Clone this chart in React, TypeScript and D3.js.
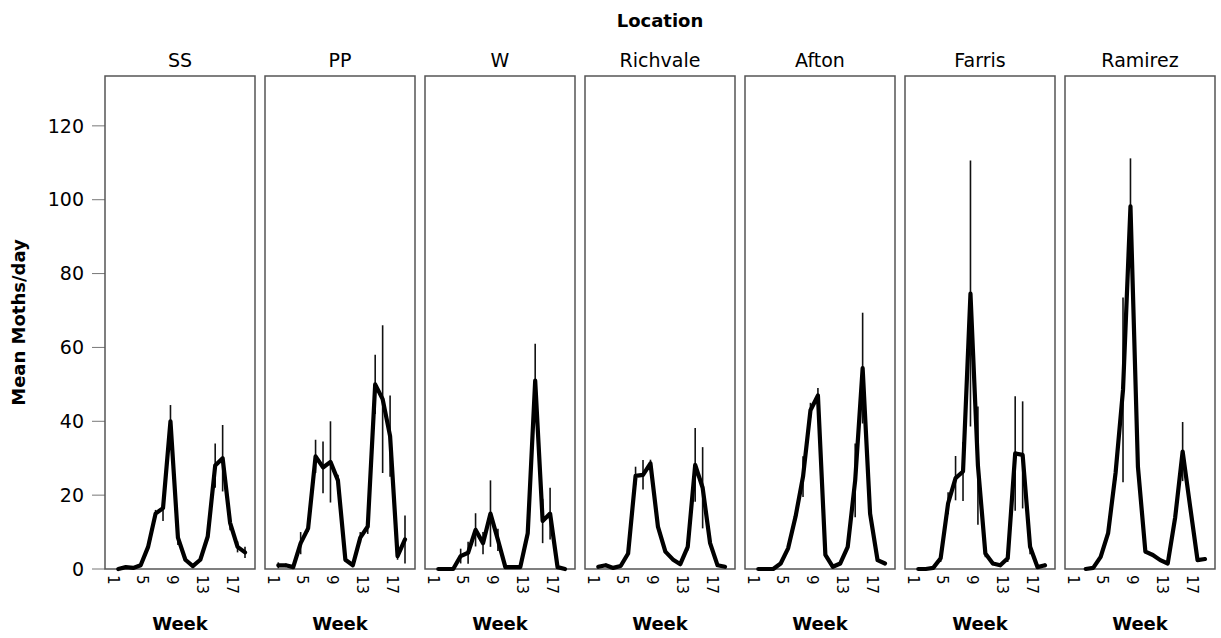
import * as d3 from 'd3';

const locations = ['SS', 'PP', 'W', 'Richvale', 'Afton', 'Farris', 'Ramirez'];
const weeks = d3.range(1, 19);
const weekTicks = [1, 5, 9, 13, 17];
const yTicks = [0, 20, 40, 60, 80, 100, 120];

// mean moths/day per week, and the error-bar half length
const ssMean = [0, 0.5, 0.3, 1, 6, 15, 16.5, 40, 8.5, 2.5, 0.8, 2.5, 8.8, 28, 30, 12.5, 6, 4.5];
const ssErr = [0, 0.3, 0, 0.5, 0.5, 1, 3.5, 4.4, 2, 0.5, 0.3, 0.5, 1, 6, 9, 2, 1.5, 1.5];
const ppMean = [1, 1, 0.5, 7, 11, 30.5, 27.5, 29, 24, 2.5, 1, 8.5, 11.5, 50, 46, 36, 3.5, 8];
const ppErr = [0.8, 0.5, 0.3, 3, 1, 4.5, 7, 11, 1.5, 0.5, 0.3, 1.5, 2, 8, 20, 11, 1, 6.5];
const wMean = [0, 0, 0, 3.5, 4.4, 10.6, 7, 15, 7.9, 0.5, 0.5, 0.5, 9.7, 51, 13, 15, 0.5, 0];
const wErr = [0, 0, 0, 2, 3, 4.5, 3, 9, 3, 0.3, 0.2, 0.3, 1, 10, 6, 7, 0.5, 0];
const richMean = [0.6, 1, 0.3, 0.8, 4.2, 25.2, 25.5, 28.6, 11.5, 4.7, 2.6, 1.3, 6, 28.2, 22, 7, 1, 0.6];
const richErr = [0.3, 0.5, 0.2, 0.3, 0.5, 2.5, 4, 1, 0.5, 0.5, 0.3, 0.3, 1, 10, 11, 1, 0.3, 0.2];
const aftonMean = [0, 0, 0, 1.5, 5.6, 14.2, 25, 43, 47, 3.8, 0.6, 1.5, 6, 24, 54.4, 15, 2.4, 1.5];
const aftonErr = [0, 0, 0, 0.3, 0.5, 1, 5.5, 2, 2, 0.5, 0.2, 0.3, 0.5, 10, 15, 1, 0.5, 0.3];
const farrisMean = [0, 0, 0.3, 2.9, 17.8, 24.6, 26.4, 74.6, 28, 4.2, 1.5, 1, 2.9, 31.3, 30.9, 6, 0.5, 1];
const farrisErr = [0, 0, 0.2, 1, 3, 6, 8, 36, 16, 1, 0.5, 0.3, 1, 15.5, 14.5, 2, 0.3, 0.5];
const ramirezMean = [null, 0, 0.3, 3.3, 9.7, 26, 48.5, 98.2, 27.7, 4.7, 3.8, 2.4, 1.5, 14, 31.8, 17, 2.4, 2.7];
const ramirezErr = [0, 0, 0.2, 0.5, 1, 2, 25, 13, 3, 0.5, 0.3, 0.3, 0.3, 2, 8, 2, 0.3, 0.5];

const means = [ssMean, ppMean, wMean, richMean, aftonMean, farrisMean, ramirezMean];
const errs = [ssErr, ppErr, wErr, richErr, aftonErr, farrisErr, ramirezErr];

const W = 1221;
const H = 638;
const font = '"DejaVu Sans", "Lucida Grande", sans-serif';

export default function App() {
  const panel = d3.scaleBand<string>().domain(locations).range([105, 1215]).paddingInner(0.0625);
  const y = d3.scaleLinear().domain([0, 133.5]).range([569, 76]);
  const x = d3.scaleLinear().domain([1, 18]).range([13.3, 140]);
  const bw = panel.bandwidth();

  const line = d3
    .line<number | null>()
    .defined((d) => d != null)
    .x((_, i) => x(weeks[i]))
    .y((d) => y(d as number));

  return (
    <svg width={W} height={H} style={{ position: 'absolute', left: 0, top: 0, background: '#fff' }} fontFamily={font}>
      <text x={660} y={27} textAnchor="middle" fontSize={18} fontWeight="bold">
        Location
      </text>
      <text transform={`translate(25,${(y.range()[0] + y.range()[1]) / 2}) rotate(-90)`} textAnchor="middle" fontSize={18} fontWeight="bold">
        Mean Moths/day
      </text>

      {/* y axis */}
      {yTicks.map((t) => (
        <g key={t}>
          <line x1={92} x2={105} y1={y(t)} y2={y(t)} stroke="#777" strokeWidth={1} />
          <text x={84} y={y(t)} dy="0.35em" textAnchor="end" fontSize={19}>
            {t}
          </text>
        </g>
      ))}

      {locations.map((loc, k) => {
        const left = panel(loc) as number;
        const m = means[k];
        const e = errs[k];
        return (
          <g key={loc}>
            <text x={left + bw / 2} y={67} textAnchor="middle" fontSize={19}>
              {loc}
            </text>
            <rect x={left} y={y.range()[1]} width={bw} height={y.range()[0] - y.range()[1]} fill="none" stroke="#555" strokeWidth={1.5} />
            <g transform={`translate(${left},0)`}>
              {weeks.map((w, i) =>
                m[i] != null && e[i] > 0 ? (
                  <line key={w} x1={x(w)} x2={x(w)} y1={y((m[i] as number) - e[i])} y2={y((m[i] as number) + e[i])} stroke="#111" strokeWidth={1.6} />
                ) : null
              )}
              <path d={line(m) || ''} fill="none" stroke="#000" strokeWidth={4.2} strokeLinejoin="round" strokeLinecap="round" />
              {weekTicks.map((w) => (
                <text key={w} transform={`translate(${x(w) - 5.5},575) rotate(90)`} dy="0.35em" fontSize={15}>
                  {w}
                </text>
              ))}
            </g>
            <text x={left + bw / 2} y={630} textAnchor="middle" fontSize={18} fontWeight="bold">
              Week
            </text>
          </g>
        );
      })}
    </svg>
  );
}
